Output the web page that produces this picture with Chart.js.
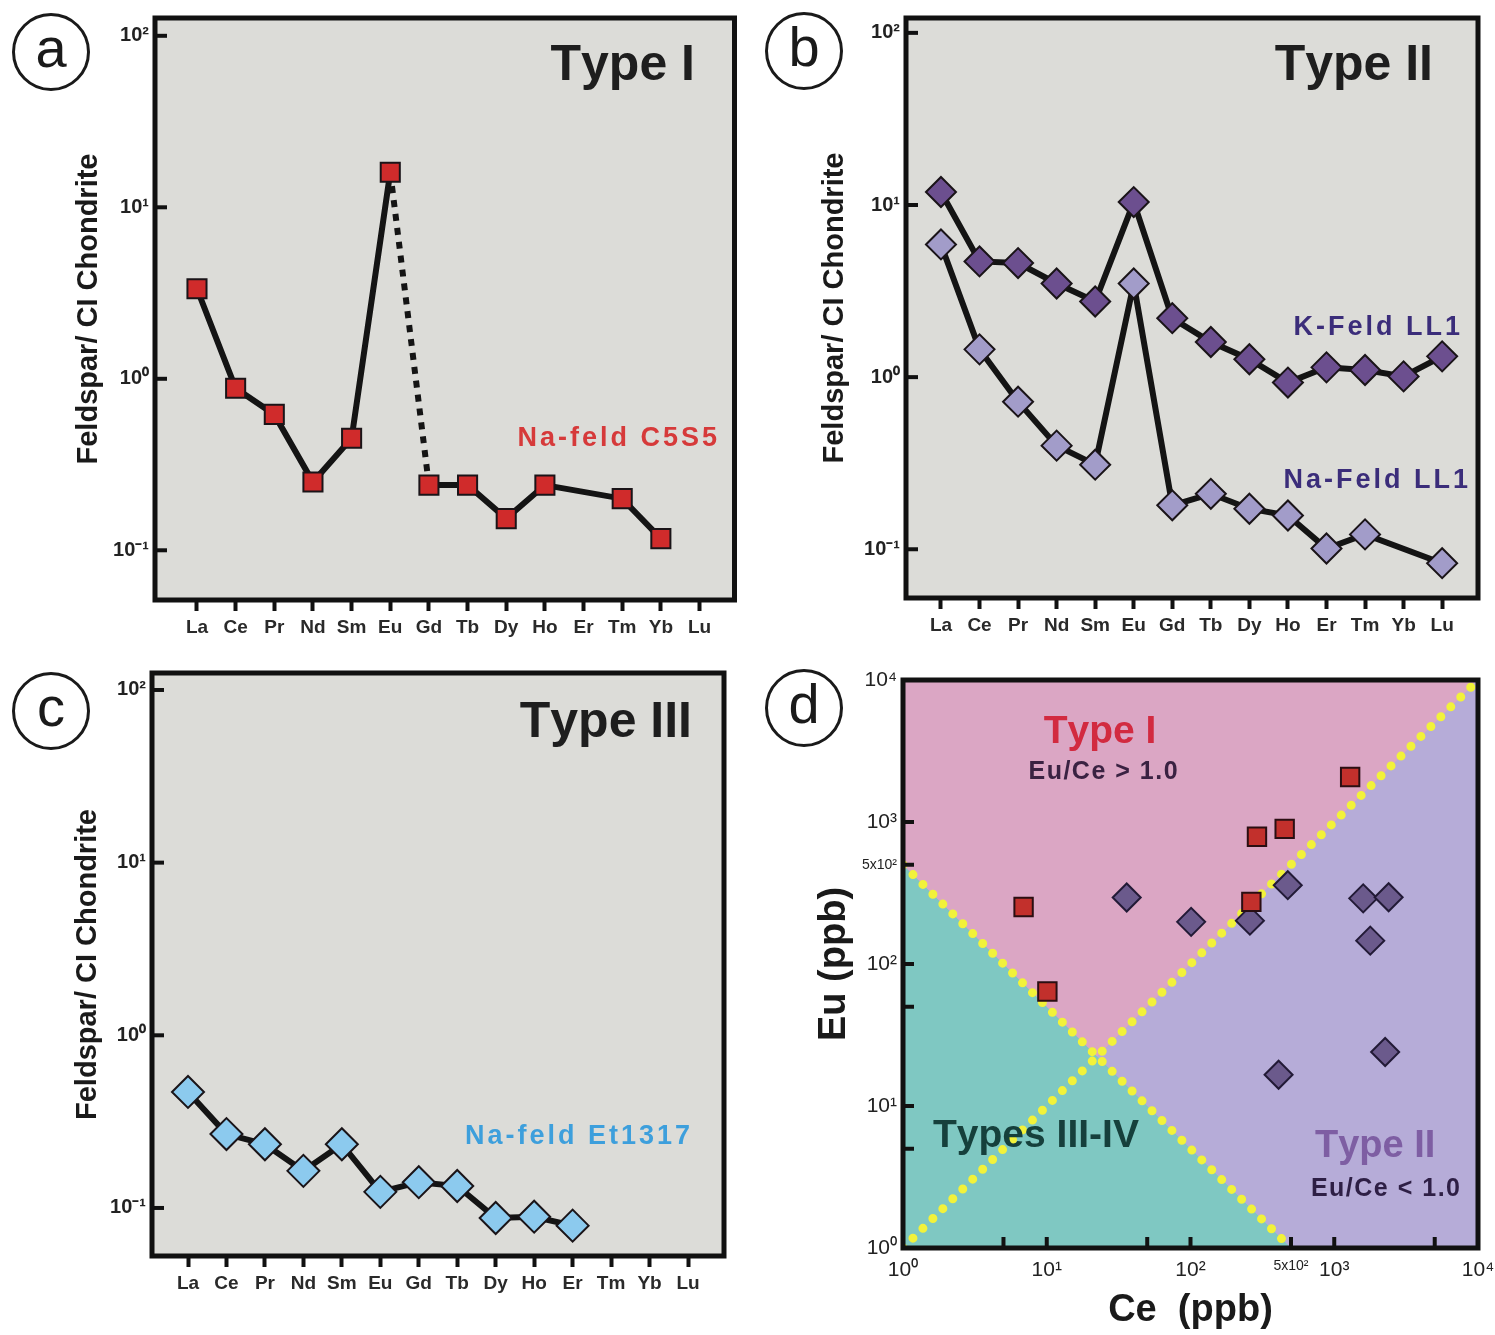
<!DOCTYPE html>
<html>
<head>
<meta charset="utf-8">
<script src="https://cdn.jsdelivr.net/npm/chart.js@4.4.1/dist/chart.umd.min.js"></script>
<style>
  body { margin: 0; background: #fff; width: 1495px; height: 1335px; position: relative; overflow: hidden;
         font-family: "Liberation Sans", Arial, sans-serif; }
  canvas { position: absolute; }
  .tag { position: absolute; width: 72px; height: 72px; border: 3px solid #1a1a1a; border-radius: 50%;
         font-size: 56px; line-height: 64px; text-align: center; color: #1a1a1a; }
</style>
</head>
<body>
<canvas id="chartA" width="750" height="650" style="left:0;top:0"></canvas>
<canvas id="chartB" width="745" height="650" style="left:750px;top:0"></canvas>
<canvas id="chartC" width="750" height="685" style="left:0;top:650px"></canvas>
<canvas id="chartD" width="770" height="685" style="left:750px;top:650px"></canvas>
<div class="tag" style="left:12px;top:13px">a</div>
<div class="tag" style="left:765px;top:12px">b</div>
<div class="tag" style="left:12px;top:672px">c</div>
<div class="tag" style="left:765px;top:669px">d</div>
<script>
// REE patterns (feldspar / CI chondrite)
var elements = ['La', 'Ce', 'Pr', 'Nd', 'Sm', 'Eu', 'Gd', 'Tb', 'Dy', 'Ho', 'Er', 'Tm', 'Yb', 'Lu'];
var naFeldC5S5 = [3.35, 0.88, 0.62, 0.25, 0.45, 16, 0.24, 0.24, 0.153, 0.24, null, 0.2, 0.117, null];
var kFeldLL1 = [11.9, 4.7, 4.6, 3.5, 2.75, 10.4, 2.2, 1.6, 1.27, 0.93, 1.14, 1.1, 1.01, 1.32];
var naFeldLL1 = [5.9, 1.45, 0.72, 0.4, 0.31, 3.5, 0.18, 0.21, 0.172, 0.157, 0.101, 0.122, null, 0.083];
var naFeldEt1317 = [0.47, 0.268, 0.234, 0.164, 0.234, 0.124, 0.141, 0.134, 0.0875, 0.089, 0.079, null, null, null];
var reeTicks = [0.1, 1, 10, 100];
var reeTickLabels = ['10⁻¹', '10⁰', '10¹', '10²'];

// Eu vs Ce (ppb)
var ceTypeI = [6.9, 10.1, 290, 452, 1290, 265];
var euTypeI = [252, 64, 787, 894, 2075, 274];
var ceTypeII = [36, 101, 259, 475, 1590, 2390, 1780, 2260, 410];
var euTypeII = [294, 198, 202, 359, 290, 295, 146, 24, 16.6];
var ceTicks = [1, 5, 10, 50, 100, 500, 1000, 5000, 10000];
var ceTickLabels = ['10⁰', '', '10¹', '', '10²', '5x10²', '10³', '', '10⁴'];
var euTicks = [1, 5, 10, 50, 100, 500, 1000, 10000];
var euTickLabels = ['10⁰', '', '10¹', '', '10²', '5x10²', '10³', '10⁴'];
// field boundaries: Eu/Ce = 1 and Eu*Ce = 500
var typeIEdge = [[1, 500], [22.4, 22.4], [10000, 10000]];
var typeIIIEdge = [[1, 500], [500, 1]];
var ratioOne = [[1, 1], [10000, 10000]];

var FONT = '"Liberation Sans", Arial, sans-serif';

function drawSpaced(ctx, text, x, y, sp, align) {
  var w = 0, i;
  for (i = 0; i < text.length; i++) w += ctx.measureText(text[i]).width + (i ? sp : 0);
  var cx = align === 'right' ? x - w : align === 'center' ? x - w / 2 : x;
  ctx.textAlign = 'left';
  for (i = 0; i < text.length; i++) {
    ctx.fillText(text[i], cx, y);
    cx += ctx.measureText(text[i]).width + sp;
  }
}

var panelPlugin = {
  id: 'panel',
  beforeDraw: function(chart, args, o) {
    var a = chart.chartArea, ctx = chart.ctx;
    ctx.save();
    ctx.fillStyle = o.bg;
    ctx.fillRect(a.left, a.top, a.right - a.left, a.bottom - a.top);
    ctx.restore();
  },
  afterDraw: function(chart, args, o) {
    var a = chart.chartArea, ctx = chart.ctx;
    ctx.save();
    ctx.strokeStyle = '#111';
    ctx.lineWidth = 4;
    (o.yTicks || []).forEach(function(v) {
      var py = chart.scales.y.getPixelForValue(v);
      ctx.beginPath(); ctx.moveTo(a.left, py); ctx.lineTo(a.left + o.tickLen, py); ctx.stroke();
    });
    (o.xTicks || []).forEach(function(v) {
      var px = chart.scales.x.getPixelForValue(v);
      ctx.beginPath(); ctx.moveTo(px, a.bottom); ctx.lineTo(px, a.bottom - o.tickLen); ctx.stroke();
    });
    ctx.lineWidth = 5;
    ctx.strokeRect(a.left, a.top, a.right - a.left, a.bottom - a.top);
    (o.notes || []).forEach(function(n) {
      ctx.font = n.font + ' ' + FONT;
      ctx.fillStyle = n.color;
      ctx.textBaseline = 'alphabetic';
      drawSpaced(ctx, n.text, n.x, n.y, n.sp || 0, n.align);
    });
    ctx.restore();
  }
};

function reeSeries(values) {
  return elements.map(function(e, i) { return { x: i, y: values[i] }; });
}

function reeChart(id, cfg) {
  return new Chart(document.getElementById(id).getContext('2d'), {
    type: 'line',
    data: { datasets: cfg.datasets },
    plugins: [panelPlugin],
    options: {
      responsive: false,
      animation: false,
      events: [],
      spanGaps: true,
      layout: { padding: { top: cfg.area.top, right: cfg.area.right, left: 0, bottom: 0 } },
      plugins: {
        legend: { display: false },
        tooltip: { enabled: false },
        panel: { bg: '#dcdcd8', yTicks: reeTicks, tickLen: 12, notes: cfg.notes }
      },
      scales: {
        x: {
          type: 'linear', min: cfg.xMin, max: cfg.xMax,
          afterBuildTicks: function(s) { s.ticks = elements.map(function(e, i) { return { value: i }; }); },
          afterFit: function(s) { s.height = cfg.area.xh; },
          grid: { drawOnChartArea: false, drawTicks: true, tickLength: 11, tickWidth: 4, tickColor: '#111' },
          border: { display: false },
          ticks: {
            padding: 5, autoSkip: false, maxRotation: 0, color: '#2a2a2a',
            font: { family: FONT, size: 19, weight: 'bold' },
            callback: function(v) { return elements[v]; }
          }
        },
        y: {
          type: 'logarithmic', min: cfg.yMin, max: cfg.yMax,
          afterBuildTicks: function(s) { s.ticks = reeTicks.map(function(v) { return { value: v }; }); },
          afterFit: function(s) { s.width = cfg.area.yw; },
          grid: { drawOnChartArea: false, drawTicks: false },
          border: { display: false },
          ticks: {
            padding: 6, color: '#222',
            font: { family: FONT, size: 20, weight: 'bold' },
            callback: function(v) { return reeTickLabels[reeTicks.indexOf(v)]; }
          },
          title: {
            display: true, text: 'Feldspar/ CI Chondrite', color: '#1a1a1a',
            font: { family: FONT, size: 29, weight: 'bold' },
            padding: { top: cfg.titlePad, bottom: 0 }
          }
        }
      }
    }
  });
}

function reeLine(values, fill, r, extra) {
  var ds = {
    data: reeSeries(values),
    borderColor: '#141414', borderWidth: 6,
    pointStyle: r.style, pointRadius: r.size,
    pointBackgroundColor: fill, pointBorderColor: '#1a1418', pointBorderWidth: 2
  };
  for (var k in extra) ds[k] = extra[k];
  return ds;
}

reeChart('chartA', {
  area: { top: 15, right: 15, xh: 50, yw: 155 },
  xMin: -1.086, xMax: 13.905, yMin: 0.0513, yMax: 127, titlePad: 72,
  datasets: [
    reeLine(naFeldC5S5, '#d02b2b', { style: 'rect', size: 13.5 }, {
      segment: { borderDash: function(c) { return c.p0DataIndex === 5 ? [7, 7] : undefined; } }
    })
  ],
  notes: [
    { text: 'Type I', x: 695, y: 80, font: 'bold 50px', color: '#1e1e1e', align: 'right' },
    { text: 'Na-feld C5S5', x: 717, y: 446, font: 'bold 27px', color: '#d63a3a', align: 'right', sp: 3 }
  ]
});

reeChart('chartB', {
  area: { top: 15, right: 16, xh: 52, yw: 156 },
  xMin: -0.907, xMax: 13.93, yMin: 0.0521, yMax: 122, titlePad: 68,
  datasets: [
    reeLine(kFeldLL1, '#6c4f8f', { style: 'rectRot', size: 15 }, {}),
    reeLine(naFeldLL1, '#a29cc9', { style: 'rectRot', size: 15 }, {})
  ],
  notes: [
    { text: 'Type II', x: 683, y: 80, font: 'bold 50px', color: '#1e1e1e', align: 'right' },
    { text: 'K-Feld LL1', x: 710, y: 335, font: 'bold 27px', color: '#3b2d7a', align: 'right', sp: 3 },
    { text: 'Na-Feld LL1', x: 718, y: 488, font: 'bold 27px', color: '#3b2d7a', align: 'right', sp: 3 }
  ]
});

reeChart('chartC', {
  area: { top: 23, right: 26, xh: 79, yw: 152 },
  xMin: -0.936, xMax: 13.936, yMin: 0.0527, yMax: 125.4, titlePad: 71,
  datasets: [
    reeLine(naFeldEt1317, '#8ccaee', { style: 'rectRot', size: 16 }, {})
  ],
  notes: [
    { text: 'Type III', x: 692, y: 87, font: 'bold 50px', color: '#1e1e1e', align: 'right' },
    { text: 'Na-feld Et1317', x: 690, y: 494, font: 'bold 27px', color: '#3d9fdc', align: 'right', sp: 3 }
  ]
});

function pts(pairs) { return pairs.map(function(p) { return { x: p[0], y: p[1] }; }); }
function xy(xs, ys) { return xs.map(function(x, i) { return { x: x, y: ys[i] }; }); }

new Chart(document.getElementById('chartD').getContext('2d'), {
  type: 'line',
  data: {
    datasets: [
      { data: xy(ceTypeI, euTypeI), showLine: false, order: 0, pointStyle: 'rect', pointRadius: 13,
        pointBackgroundColor: '#c2302c', pointBorderColor: '#2a0e12', pointBorderWidth: 2 },
      { data: xy(ceTypeII, euTypeII), showLine: false, order: 1, pointStyle: 'rectRot', pointRadius: 14,
        pointBackgroundColor: '#6b5a8c', pointBorderColor: '#221a36', pointBorderWidth: 2 },
      { data: pts(ratioOne), order: 2, borderColor: '#f2f23a', borderWidth: 9, borderDash: [0, 14],
        borderCapStyle: 'round', pointRadius: 0 },
      { data: pts(typeIIIEdge), order: 3, borderColor: '#f2f23a', borderWidth: 9, borderDash: [0, 14],
        borderCapStyle: 'round', pointRadius: 0 },
      { data: pts(typeIEdge), order: 4, borderWidth: 0, borderColor: 'rgba(0,0,0,0)', pointRadius: 0,
        fill: 'end', backgroundColor: '#dba6c4' },
      { data: pts(typeIIIEdge), order: 5, borderWidth: 0, borderColor: 'rgba(0,0,0,0)', pointRadius: 0,
        fill: 'start', backgroundColor: '#7fc8c2' }
    ]
  },
  plugins: [panelPlugin],
  options: {
    responsive: false,
    animation: false,
    events: [],
    layout: { padding: { top: 30, right: 42, left: 0, bottom: 0 } },
    plugins: {
      legend: { display: false },
      tooltip: { enabled: false },
      panel: {
        bg: '#b6acd8', yTicks: euTicks.slice(1, 7), xTicks: ceTicks.slice(1, 8), tickLen: 11,
        notes: [
          { text: 'Type I', x: 350, y: 93, font: 'bold 39px', color: '#d22a40', align: 'center' },
          { text: 'Eu/Ce > 1.0', x: 353, y: 129, font: 'bold 25px', color: '#3a2242', align: 'center', sp: 1.5 },
          { text: 'Types III-IV', x: 183, y: 497, font: 'bold 39px', color: '#16403c', align: 'left' },
          { text: 'Type II', x: 565, y: 507, font: 'bold 38px', color: '#7e5ea3', align: 'left' },
          { text: 'Eu/Ce < 1.0', x: 710, y: 546, font: 'bold 25px', color: '#2e1f45', align: 'right', sp: 1.5 }
        ]
      }
    },
    scales: {
      x: {
        type: 'logarithmic', min: 1, max: 10000,
        afterBuildTicks: function(s) { s.ticks = ceTicks.map(function(v) { return { value: v }; }); },
        afterFit: function(s) { s.height = 87; },
        grid: { drawOnChartArea: false, drawTicks: false },
        border: { display: false },
        ticks: {
          padding: 10, autoSkip: false, maxRotation: 0, color: '#222',
          font: function(c) { return { family: FONT, size: c.tick && c.tick.value === 500 ? 14 : 21 }; },
          callback: function(v) { return ceTickLabels[ceTicks.indexOf(v)]; }
        },
        title: {
          display: true, text: 'Ce  (ppb)', color: '#1a1a1a',
          font: { family: FONT, size: 38, weight: 'bold' },
          padding: { top: 0, bottom: 2 }
        }
      },
      y: {
        type: 'logarithmic', min: 1, max: 10000,
        afterBuildTicks: function(s) { s.ticks = euTicks.map(function(v) { return { value: v }; }); },
        afterFit: function(s) { s.width = 153; },
        grid: { drawOnChartArea: false, drawTicks: false },
        border: { display: false },
        ticks: {
          padding: 6, autoSkip: false, color: '#222',
          font: function(c) { return { family: FONT, size: c.tick && c.tick.value === 500 ? 14 : 21 }; },
          callback: function(v) { return euTickLabels[euTicks.indexOf(v)]; }
        },
        title: {
          display: true, text: 'Eu (ppb)', color: '#1a1a1a',
          font: { family: FONT, size: 38, weight: 'bold' },
          padding: { top: 62, bottom: 0 }
        }
      }
    }
  }
});
</script>
</body>
</html>
